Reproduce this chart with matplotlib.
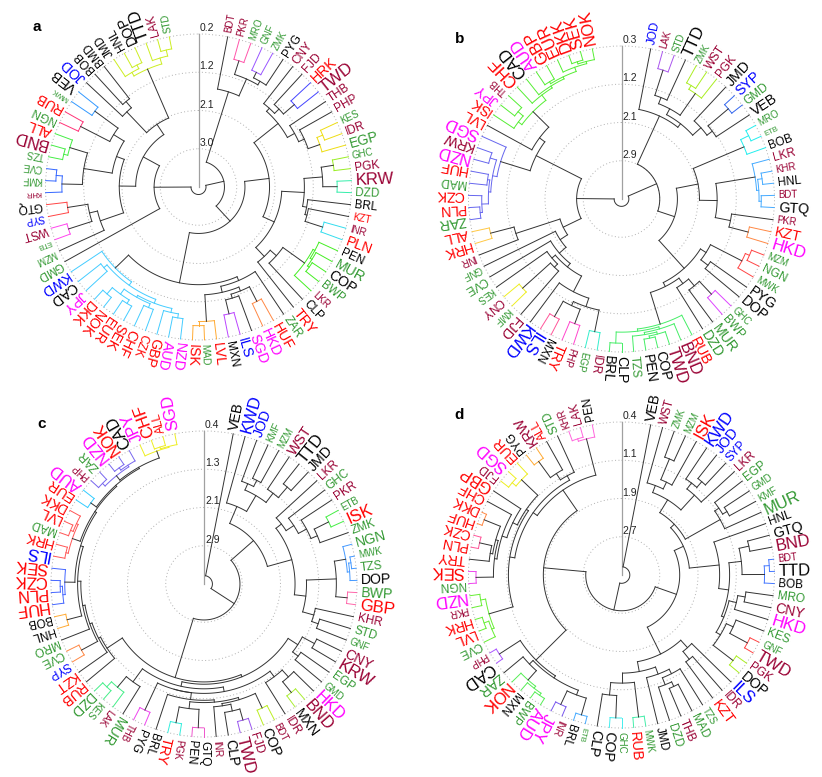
import numpy as np
import matplotlib.pyplot as plt
from matplotlib.patches import Circle

plt.rcParams['font.family'] = ['Liberation Sans', 'DejaVu Sans']

# ---------------- panel a ----------------
labels_a = ("BDT PKR MRO GNF ZMK PYG CNY FJD HRK TWD THB PHP KES IDR EGP GHC PGK KRW DZD BRL "
            "KZT INR PLN PEN MUR COP BWP LKR CLP TRY ZAR HUF HKD SGD ILS MXN LVL MAD ISK NZD "
            "AUD GBP CZK CHF SEK EUR NOK DKK JPY CAD KWD GMD MZM ETB WST SYP GTQ KHR KMF CVE "
            "TZS BND ALL NGN RUB MWK VEB JOD BOB BMD JMD HNL DOP TTD LAK STD").split()
sizes_a = [2, 2, 2, 2, 2, 3, 3, 3, 4, 5, 3, 3, 2, 3, 4, 2, 3, 5, 3, 3,
           2, 2, 4, 3, 4, 4, 3, 2, 3, 4, 3, 4, 4, 4, 4, 3, 4, 2, 4, 4,
           4, 4, 3, 4, 4, 4, 4, 4, 4, 4, 4, 3, 2, 1, 3, 2, 3, 1, 2, 2,
           2, 5, 4, 3, 4, 1, 4, 4, 3, 3, 3, 3, 4, 5, 3, 2]
# merge height between neighbouring leaves
gaps_a = [1.5, 0.7, 1.05, 0.8, 0.95, 3.3, 1.35, 1.2, 0.85, 1.45,
          1.25, 1.1, 0.65, 0.8, 2.2, 0.6, 0.9, 0.55, 1.35, 1.25,
          1.2, 0.75, 1.9, 0.7, 0.65, 0.6, 0.75, 1.4, 1.6, 2.8,
          1.45, 0.8, 1.2, 1.1, 0.75, 1.3, 0.65, 0.55, 1.55, 0.7,
          0.8, 0.9, 0.75, 0.85, 0.6, 0.7, 0.5, 1.0, 0.9, 1.1,
          3.75, 2.85, 1.4, 0.6, 1.2, 0.7, 2.0, 0.6, 0.45, 1.1,
          0.55, 0.65, 1.8, 0.7, 1.5, 0.8, 2.4, 1.4, 1.2, 2.1,
          0.7, 0.6, 0.8, 0.65, 0.5]
ticks_a = ['0.2', '1.2', '2.1', '3.0']
clusters_a = [('PKR', 'MRO'), ('GNF', 'ZMK'), ('HRK', 'TWD'), ('KES', 'EGP'), ('GHC', 'PGK'),
              ('KRW', 'DZD'), ('INR', 'PLN'), ('PEN', 'LKR'), ('HUF', 'HKD'), ('ILS', 'MXN'),
              ('LVL', 'ISK'), ('NZD', 'KWD'), ('ETB', 'WST'), ('SYP', 'GTQ'), ('KHR', 'CVE'),
              ('TZS', 'ALL'), ('NGN', 'RUB'), ('MWK', 'VEB'), ('JMD', 'STD')]
ccol_a = ['#ff55aa', '#9955ff', '#4444ff', '#eedd11', '#99ee22',
          '#33eeaa', '#33ddee', '#44ee22', '#ff8844', '#bb44ff',
          '#ffaa33', '#44ccff', '#ff44ee', '#ff4444', '#3366ff',
          '#44ee44', '#ff3377', '#3399ff', '#ccee22']

# ---------------- panel b ----------------
labels_b = ("JOD LAK STD TTD ZMK WST PGK JMD SYP GMD VEB MRO ETB BOB LKR KHR HNL BDT GTQ PKR "
            "KZT HKD MZM NGN MWK PYG DOP GHC BWP MUR DZD RUB BND TWD COP PEN TZS CLP BRL IDR "
            "EGP PHP TRY MXN ILS KWD FJD KMF CNY KES CVE GNF INR HRK ALL ZAR PLN CZK MAD HUF "
            "NZD KRW SGD LVL ISK JPY THB CHF CAD AUD GBP EUR DKK SEK NOK").split()
sizes_b = [3, 2, 2, 5, 2, 3, 3, 4, 4, 3, 4, 2, 1, 3, 3, 2, 3, 2, 4, 2,
           4, 5, 2, 3, 2, 4, 4, 2, 3, 4, 4, 4, 5, 5, 4, 4, 3, 4, 4, 3,
           2, 2, 4, 3, 5, 5, 4, 2, 3, 2, 3, 2, 2, 4, 4, 4, 4, 4, 3, 4,
           5, 4, 5, 4, 4, 4, 2, 5, 5, 5, 5, 5, 5, 5, 5]
gaps_b = [1.7, 0.7, 1.3, 1.45, 0.75, 0.85, 1.6, 1.35, 0.6, 1.2,
          2.9, 0.55, 0.75, 2.0, 0.7, 0.55, 0.65, 0.6, 1.6, 1.25,
          0.8, 2.5, 0.6, 0.7, 1.5, 1.3, 1.65, 0.8, 1.2, 1.4,
          1.55, 0.8, 0.7, 0.6, 0.55, 0.65, 0.75, 0.5, 3.6, 0.7,
          1.2, 0.75, 1.1, 0.7, 1.4, 1.8, 1.6, 0.75, 1.7, 1.9,
          2.1, 2.3, 1.25, 0.7, 2.75, 0.55, 0.6, 0.75, 0.7, 0.8,
          0.65, 0.9, 1.6, 1.45, 0.85, 0.7, 0.95, 0.8, 0.75, 0.65,
          0.7, 0.6, 0.5, 0.55]
ticks_b = ['0.3', '1.2', '2.1', '2.9']
clusters_b = [('LAK', 'STD'), ('ZMK', 'PGK'), ('SYP', 'GMD'), ('MRO', 'BOB'), ('LKR', 'GTQ'),
              ('KZT', 'HKD'), ('MZM', 'MWK'), ('GHC', 'BWP'), ('RUB', 'BRL'), ('IDR', 'EGP'),
              ('PHP', 'TRY'), ('MXN', 'ILS'), ('KMF', 'CNY'), ('HRK', 'ALL'), ('ZAR', 'SGD'),
              ('ISK', 'NOK')]
ccol_b = ['#aa55ee', '#aaee22', '#3366ee', '#22eeee', '#44aaff',
          '#ff8844', '#ff4444', '#dd44ff', '#44ee66', '#33eecc',
          '#ff44cc', '#ff5599', '#eeee22', '#ffc844', '#6666ee',
          '#55ee33']

# ---------------- panel c ----------------
labels_c = ("VEB KWD JOD KMF MZM WST TTD JMD LKR GHC PKR ETB ISK ZMK NGN MWK TZS DOP BWP GBP "
            "KHR STD GNF CNY KRW EGP GMD HKD BND MXN IDR BDT COP FJD TWD CLP INR GTQ PEN PGK "
            "TRY BRL PYG THB MUR LAK KES DZD RUB KZT SYP CVE MRO HNL BOB HUF PLN CZK SEK ILS "
            "HRK MAD LVL DKK EUR AUD PHP ZAR NZD NOK CAD JPY CHF ALL SGD").split()
sizes_c = [4, 5, 4, 2, 2, 4, 5, 4, 3, 3, 3, 2, 5, 3, 4, 2, 3, 4, 4, 5,
           3, 3, 2, 4, 5, 3, 2, 5, 5, 4, 3, 2, 4, 3, 5, 4, 2, 3, 3, 2,
           4, 3, 3, 2, 4, 2, 2, 4, 4, 4, 3, 3, 3, 3, 3, 5, 5, 5, 5, 5,
           4, 3, 4, 4, 4, 5, 2, 3, 5, 5, 5, 5, 5, 3, 5]
gaps_c = [3.55, 1.9, 1.35, 1.2, 1.5, 1.25, 0.95, 2.3, 1.6, 1.4,
          1.2, 0.7, 1.05, 1.75, 0.6, 0.5, 0.55, 0.85, 0.6, 1.5,
          1.25, 1.1, 2.95, 1.0, 1.3, 1.15, 1.55, 1.0, 0.7, 1.2,
          1.35, 0.75, 1.1, 0.65, 0.9, 1.05, 1.15, 0.6, 1.0, 0.65,
          1.2, 1.35, 0.7, 1.45, 1.1, 0.8, 0.65, 1.6, 1.2, 1.15,
          0.7, 1.1, 1.05, 0.65, 0.98, 0.65, 0.6, 0.7, 0.92, 0.65,
          0.7, 0.6, 0.66, 0.88, 0.7, 0.85, 0.62, 0.7, 0.6, 0.66,
          0.82, 0.66, 0.6, 0.64]
ticks_c = ['0.4', '1.3', '2.1', '2.9']
clusters_c = [('ETB', 'ISK'), ('NGN', 'DOP'), ('BWP', 'GBP'), ('BND', 'MXN'), ('BDT', 'COP'),
              ('FJD', 'TWD'), ('GTQ', 'PEN'), ('PGK', 'TRY'), ('PYG', 'THB'), ('LAK', 'DZD'),
              ('SYP', 'CVE'), ('HNL', 'BOB'), ('HUF', 'SEK'), ('ILS', 'DKK'), ('EUR', 'AUD'),
              ('PHP', 'CAD'), ('JPY', 'SGD')]
ccol_c = ['#44ee44', '#4499ff', '#ff66aa', '#aaee33', '#bbee22',
          '#9955ee', '#ee55cc', '#33eedd', '#ee44ee', '#44ee88',
          '#ff8844', '#ffaa33', '#4466ff', '#ff5555', '#33ccff',
          '#7766ee', '#eeee22']

# ---------------- panel d ----------------
labels_d = ("VEB WST ZMK MZM ISK KWD JOD SYP LKR EGP GMD KMF MUR HNL GTQ BND BDT TTD BOB MRO "
            "CNY HKD KES GNF TWD PGK DOP ILS IDR KZT TZS MAD THB DZD JMD MWK RUB GHC COP CLP "
            "ETB BRL INR JPY AUD BWP MXN NOK ZAR CAD PHP CVE LVL HRK PKR NZD NGN SEK TRY PLN "
            "CZK HUF DKK CHF GBP FJD SGD EUR PYG KRW ALL STD KHR LAK PEN").split()
sizes_d = [4, 3, 2, 2, 5, 5, 4, 3, 3, 3, 2, 2, 5, 3, 4, 5, 2, 5, 3, 3,
           4, 5, 3, 2, 5, 3, 4, 5, 3, 4, 2, 3, 3, 3, 3, 2, 4, 2, 4, 4,
           1, 3, 2, 5, 5, 3, 3, 5, 4, 5, 2, 3, 4, 4, 2, 5, 3, 5, 4, 4,
           4, 4, 4, 4, 5, 3, 5, 4, 3, 4, 3, 3, 2, 3, 3]
gaps_d = [3.3, 1.55, 0.95, 1.4, 1.7, 1.15, 1.0, 1.3, 2.0, 1.1,
          1.0, 1.2, 2.1, 1.5, 0.85, 1.05, 0.5, 0.6, 1.3, 0.95,
          1.1, 1.25, 1.0, 0.6, 1.15, 0.65, 2.3, 1.5, 1.3, 1.7,
          1.25, 1.0, 1.1, 1.35, 1.5, 0.6, 1.3, 0.6, 1.05, 2.75,
          0.55, 0.9, 0.6, 1.0, 0.55, 0.6, 0.65, 0.9, 1.05, 0.55,
          1.9, 0.65, 0.55, 0.7, 0.6, 1.2, 0.55, 0.9, 0.8, 0.55,
          0.85, 0.5, 0.95, 1.05, 1.15, 0.6, 0.7, 1.3, 0.65, 1.05,
          1.2, 1.4, 0.6, 0.65]
ticks_d = ['0.4', '1.1', '1.9', '2.7']
clusters_d = [('BDT', 'BOB'), ('GNF', 'TWD'), ('PGK', 'DOP'), ('MWK', 'RUB'), ('GHC', 'COP'),
              ('ETB', 'BRL'), ('INR', 'JPY'), ('AUD', 'NOK'), ('CAD', 'PHP'), ('CVE', 'NZD'),
              ('NGN', 'SEK'), ('PLN', 'CZK'), ('HUF', 'DKK'), ('FJD', 'EUR'), ('PYG', 'KRW'),
              ('KHR', 'PEN')]
ccol_d = ['#4477ff', '#ff4444', '#aaee22', '#44eeaa', '#44eeee',
          '#44aaff', '#7755ee', '#55ee55', '#aa55ff', '#66ee33',
          '#ee44ee', '#ff5599', '#ff8844', '#eeee22', '#ffaa33',
          '#ff66dd']

# label colour by currency group
RED, MAG, BLU, GRN, MAR = '#ff0000', '#ff00ff', '#0000ff', '#339933', '#990033'
label_col = {}
for c in "HRK PLN KZT TRY HUF LVL ISK GBP CZK CHF SEK EUR NOK DKK RUB ALL".split():
    label_col[c] = RED
for c in "HKD SGD NZD AUD JPY".split():
    label_col[c] = MAG
for c in "ILS KWD JOD SYP".split():
    label_col[c] = BLU
for c in ("MRO GNF ZMK KES EGP GHC DZD MUR BWP ZAR MAD GMD MZM ETB KMF CVE TZS NGN "
          "MWK STD").split():
    label_col[c] = GRN
for c in "BDT PKR CNY FJD TWD THB PHP IDR PGK KRW INR LKR WST KHR BND LAK".split():
    label_col[c] = MAR

fsize = {1: 5.5, 2: 7.0, 3: 8.5, 4: 10.2, 5: 12.0}

R = 153.0      # leaf radius, px
FR = 0.25      # radial fraction per tick step
OPEN = 22.0    # degrees left open at the top
LOFF = 4.0


def build(lo, hi, gaps):
    if lo == hi:
        return {'leaves': [lo], 'h': None, 'kids': []}
    k = lo + int(np.argmax(gaps[lo:hi]))
    return {'leaves': list(range(lo, hi + 1)), 'h': gaps[k],
            'kids': [build(lo, k, gaps), build(k + 1, hi, gaps)]}


def draw_panel(ax, cx, cy, labels, sizes, gaps, ticks, clusters, ccols, letter):
    n = len(labels)
    theta = np.radians(90 - OPEN / 2 - np.arange(n) * (360 - OPEN) / (n - 1))
    tv = [float(t) for t in ticks]
    step = (tv[-1] - tv[0]) / (len(tv) - 1)

    def rad(h):
        return R * (1 - FR * (h - tv[0]) / step)

    cid = np.full(n, -1)
    for j, (s, e) in enumerate(clusters):
        cid[labels.index(s):labels.index(e) + 1] = j

    # grid circles and radial axis
    for k, t in enumerate(ticks):
        rr = R * (1 - FR * k)
        ax.add_patch(Circle((cx, cy), rr, fill=False, ls=(0, (1, 2.5)), lw=0.7,
                            ec='#b0b0b0', zorder=1))
        ax.text(cx + 1, cy - rr - 1, t, ha='left', va='bottom', fontsize=7.5,
                color='#222222', zorder=5)
    ax.plot([cx, cx], [cy, cy - R], color='#a0a0a0', lw=0.9, zorder=2)

    def walk(node):
        if not node['kids']:
            return theta[node['leaves'][0]], R
        pos = [walk(c) for c in node['kids']]
        r = rad(node['h'])
        ids = set(cid[node['leaves']].tolist())
        col = ccols[ids.pop()] if len(ids) == 1 and -1 not in ids else '#333333'
        a = np.linspace(pos[0][0], pos[-1][0], 80)
        ax.plot(cx + r * np.cos(a), cy - r * np.sin(a), color=col, lw=0.7, zorder=3)
        for ac, rc in pos:
            ax.plot([cx + r * np.cos(ac), cx + rc * np.cos(ac)],
                    [cy - r * np.sin(ac), cy - rc * np.sin(ac)],
                    color=col, lw=0.7, zorder=3)
        return (pos[0][0] + pos[-1][0]) / 2, r

    walk(build(0, n - 1, gaps))

    for i, lab in enumerate(labels):
        a = theta[i]
        ax.text(cx + (R + LOFF) * np.cos(a), cy - (R + LOFF) * np.sin(a), lab,
                rotation=np.degrees(a) % 360, rotation_mode='anchor',
                ha='left', va='center', fontsize=fsize[sizes[i]],
                color=label_col.get(lab, '#000000'), zorder=4)

    ax.text(cx - 162, cy - 160, letter, fontsize=11, fontweight='bold',
            ha='center', va='center')


fig = plt.figure(figsize=(8.22, 7.77), dpi=100)
ax = fig.add_axes([0, 0, 1, 1])
ax.set_xlim(0, 822)
ax.set_ylim(777, 0)
ax.axis('off')

draw_panel(ax, 198.5, 187, labels_a, sizes_a, gaps_a, ticks_a, clusters_a, ccol_a, 'a')
draw_panel(ax, 621.5, 199, labels_b, sizes_b, gaps_b, ticks_b, clusters_b, ccol_b, 'b')
draw_panel(ax, 204, 584, labels_c, sizes_c, gaps_c, ticks_c, clusters_c, ccol_c, 'c')
draw_panel(ax, 621.5, 575, labels_d, sizes_d, gaps_d, ticks_d, clusters_d, ccol_d, 'd')

fig.savefig('out.png', dpi=100)
